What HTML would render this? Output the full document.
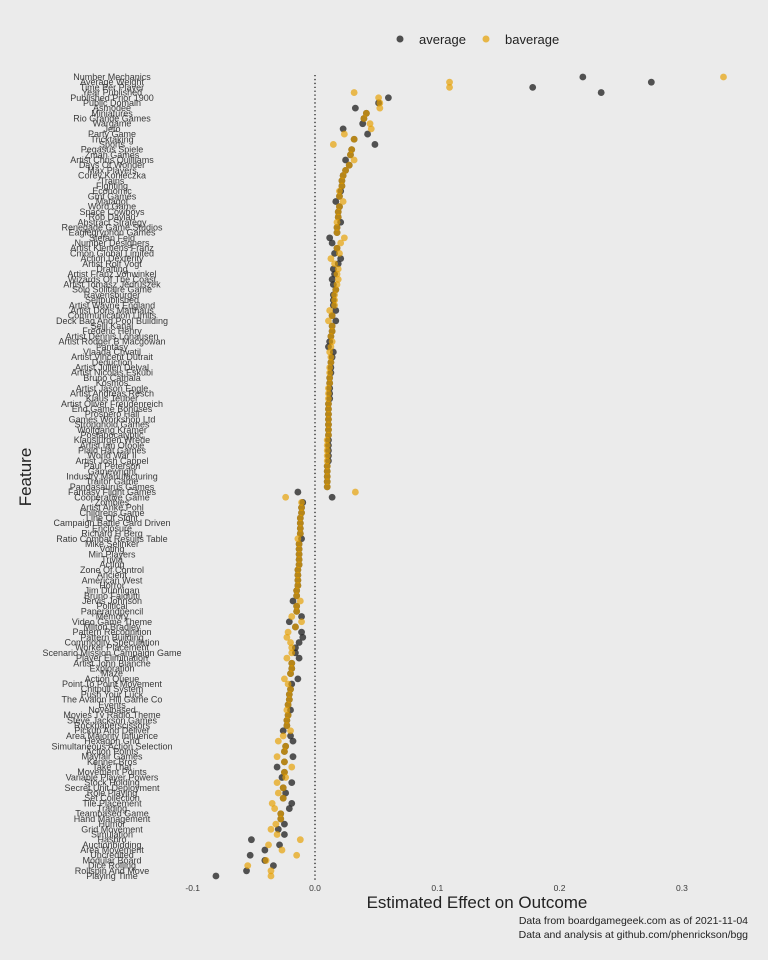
<!DOCTYPE html>
<html><head><meta charset="utf-8"><style>
body{margin:0;background:#ebebeb;}
svg{display:block;font-family:"Liberation Sans",sans-serif;}
</style></head><body>
<svg id="chart" width="768" height="960">
<rect width="768" height="960" fill="#ebebeb"/>
<g>
<circle cx="400" cy="39" r="3.5" fill="#333" fill-opacity="0.85"/>
<text x="419" y="44" font-size="13" fill="#222">average</text>
<circle cx="486" cy="39" r="3.5" fill="#E69F00" fill-opacity="0.7"/>
<text x="505" y="44" font-size="13" fill="#222">baverage</text>
</g>
<line x1="315" x2="315" y1="75" y2="880" stroke="#111" stroke-width="1.2" stroke-dasharray="1.3,2.6"/>
<g id="ylabels"></g>
<g id="xticks"></g>
<g id="dots"></g>
<text x="477" y="908" font-size="17" text-anchor="middle" fill="#222">Estimated Effect on Outcome</text>
<text transform="translate(31,477) rotate(-90)" font-size="17" text-anchor="middle" fill="#222">Feature</text>
<text x="748" y="924" font-size="10.5" text-anchor="end" fill="#222">Data from boardgamegeek.com as of 2021-11-04</text>
<text x="748" y="938" font-size="10.5" text-anchor="end" fill="#222">Data and analysis at github.com/phenrickson/bgg</text>
</svg>
<script>
const features = ["Number Mechanics","Average Weight","Time Per Player","Year Published","Published Prior 1900","Public Domain","Asmodee","Miniatures","Rio Grande Games","Wargame","Jeto","Party Game","Tricktaking","Sports","Pegasus Spiele","Zman Games","Artist Chris Quilliams","Days Of Wonder","Max Players","Corey Konieczka","Trains","Fighting","Economic","Gmt Games","Matagot","Word Game","Space Cowboys","Rob Daviau","Abstract Strategy","Renegade Game Studios","Eaglegryphon Games","Stefan Feld","Number Designers","Artist Klemens Franz","Cmon Global Limited","Action Dexterity","Artist Rolf Vogt","Drafting","Artist Franz Vohwinkel","Wizards Of The Coast","Artist Tomasz Jedruszek","Solo Solitaire Game","Ravensburger","Selfpublished","Artist Wayne England","Artist Doris Matthaus","Communication Limits","Deck Bag And Pool Building","Seiji Kanai","Frederic Henry","Artist Dennis Lohausen","Artist Rodger B Macgowan","Fantasy","Vlaada Chvatil","Artist Vincent Dutrait","Deduction","Artist Julien Delval","Artist Nicolas Eskubi","Bruno Cathala","Kosmos","Artist Jason Engle","Artist Andreas Resch","Klaus Teuber","Artist Oliver Freudenreich","End Game Bonuses","Prospero Hall","Games Workshop Ltd","Stronghold Games","Wolfgang Kramer","Postapocalyptic","Klausjurgen Wrede","Artist Ian Otoole","Plaid Hat Games","World War Ii","Artist Josh Cappel","Paul Peterson","Gamewright","Industry Manufacturing","Traitor Game","Pandasaurus Games","Fantasy Flight Games","Cooperative Game","Zombies","Artist Anke Pohl","Childrens Game","Line Of Sight","Campaign Battle Card Driven","Enclosure","Richard H Berg","Ratio Combat Results Table","Mike Selinker","Voting","Min Players","Trivia","Acting","Zone Of Control","Ancient","American West","Horror","Jim Dunnigan","Bruno Faidutti","Jervis Johnson","Political","Paperandpencil","Memory","Video Game Theme","Milton Bradley","Pattern Recognition","Pattern Building","Commodity Speculation","Worker Placement","Scenario Mission Campaign Game","Player Elimination","Artist John Blanche","Exploration","Maze","Action Queue","Point To Point Movement","Chitpull System","Push Your Luck","The Avalon Hill Game Co","Events","Novelbased","Movies Tv Radio Theme","Steve Jackson Games","Rockpaperscissors","Pickup And Deliver","Area Majority Influence","Hexagon Grid","Simultaneous Action Selection","Action Points","Mayfair Games","Kenner Bros","Take That","Movement Points","Variable Player Powers","Stock Holding","Secret Unit Deployment","Role Playing","Set Collection","Tile Placement","Trading","Teambased Game","Hand Management","Humor","Grid Movement","Simulation","Hasbro","Auctionbidding","Area Movement","Uncredited","Modular Board","Dice Rolling","Rollspin And Move","Playing Time"];
const averageValues = [.219,.275,.178,.234,.060,.052,.033,.042,.040,.039,.023,.043,.032,.049,.030,.029,.025,.028,.025,.023,.022,.022,.021,.020,.017,.020,.019,.019,.021,.018,.018,.012,.014,.018,.016,.021,.019,.015,.016,.014,
.015,.017,.015,.015,.015,.017,.014,.017,.014,.014,.013,.012,.011,.015,.014,.013,.013,.013,.012,.012,.012,.012,.012,.011,.011,.011,.011,.011,.011,.011,.011,.011,.011,.011,.011,.010,.010,.010,.010,.010,
-.014,.014,
-.010,-.011,-.011,-.012,-.012,-.012,-.012,-.011,-.013,-.013,-.013,-.013,-.013,-.014,-.014,-.014,-.014,-.015,-.015,-.018,-.015,-.015,-.011,-.021,-.016,-.011,-.010,-.013,-.016,-.016,-.013,-.019,-.019,-.020,-.014,-.019,-.020,-.021,
-.021,-.022,-.020,-.022,-.023,-.023,-.026,-.020,-.018,-.024,-.025,-.018,-.025,-.031,-.025,-.027,-.019,-.026,-.024,-.026,-.019,-.021,-.028,-.028,-.025,-.030,-.025,-.052,-.029,-.041,-.053,-.041,-.034,-.056,-.081];
const baverageValues = [.334,.110,.110,.032,.052,.053,.053,.042,.040,.045,.046,.024,.032,.015,.030,.029,.032,.028,.025,.023,.022,.022,.020,.020,.023,.020,.019,.019,.018,.018,.018,.024,.021,.018,.020,.013,.016,.019,.018,.019,
.018,.017,.016,.016,.016,.012,.014,.011,.014,.014,.013,.014,.013,.012,.013,.013,.012,.012,.012,.012,.011,.011,.011,.011,.011,.011,.011,.011,.011,.011,.010,.010,.010,.010,.010,.010,.010,.010,.010,.010,
.033,-.024,
-.011,-.011,-.011,-.012,-.012,-.012,-.012,-.014,-.013,-.013,-.013,-.013,-.013,-.014,-.014,-.014,-.014,-.015,-.015,-.012,-.015,-.015,-.019,-.011,-.016,-.022,-.023,-.020,-.019,-.019,-.023,-.019,-.019,-.020,-.025,-.022,-.020,-.021,
-.021,-.022,-.023,-.022,-.023,-.023,-.020,-.026,-.030,-.024,-.025,-.031,-.025,-.019,-.025,-.024,-.031,-.026,-.030,-.026,-.035,-.033,-.028,-.028,-.032,-.036,-.031,-.012,-.038,-.027,-.015,-.040,-.055,-.036,-.036];
const xTicks = [-0.1, 0.0, 0.1, 0.2, 0.3];
const xTickLabels = ["-0.1","0.0","0.1","0.2","0.3"];

const NS = "http://www.w3.org/2000/svg";
const x = v => 315 + v * 1223;
const y = i => 77 + i * (799 / (features.length - 1));

const yl = document.getElementById('ylabels');
features.forEach((f, i) => {
  const t = document.createElementNS(NS, 'text');
  t.setAttribute('x', 112);
  t.setAttribute('y', y(i) + 3);
  t.setAttribute('font-size', '9');
  t.setAttribute('text-anchor', 'middle');
  t.setAttribute('fill', '#3a3a3a');
  
  
  t.textContent = f;
  yl.appendChild(t);
});

const xt = document.getElementById('xticks');
xTicks.forEach((v, i) => {
  const t = document.createElementNS(NS, 'text');
  t.setAttribute('x', x(v));
  t.setAttribute('y', 891);
  t.setAttribute('font-size', '8.5');
  t.setAttribute('text-anchor', 'middle');
  t.setAttribute('fill', '#3a3a3a');
  
  
  t.textContent = xTickLabels[i];
  xt.appendChild(t);
});

const dots = document.getElementById('dots');
function addDot(v, i, color, op, name) {
  const c = document.createElementNS(NS, 'circle');
  c.setAttribute('cx', x(v));
  c.setAttribute('cy', y(i));
  c.setAttribute('r', 3.4);
  c.setAttribute('fill', color);
  c.setAttribute('fill-opacity', op);
  
  
  dots.appendChild(c);
}
averageValues.forEach((v, i) => addDot(v, i, '#2b2b2b', 0.8, 'average-point'));
baverageValues.forEach((v, i) => addDot(v, i, '#E69F00', 0.68, 'baverage-point'));
</script>
</body></html>
